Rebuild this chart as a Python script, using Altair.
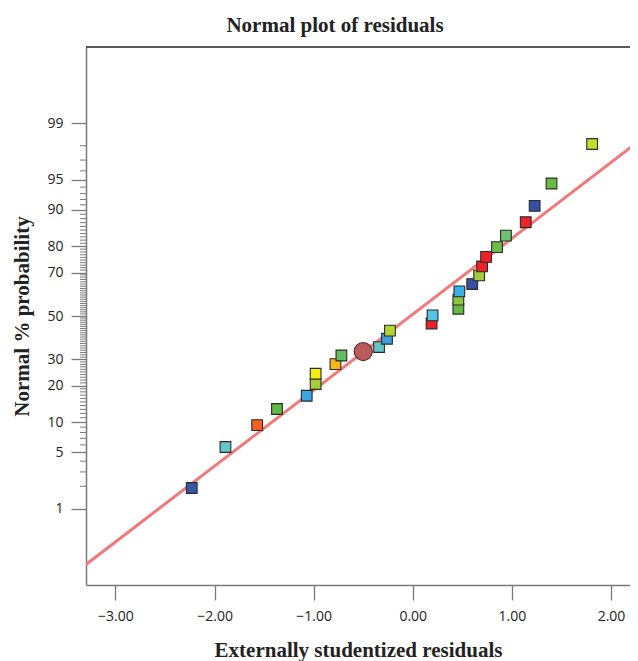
import altair as alt
import pandas as pd
from statistics import NormalDist

nd = NormalDist()

# Externally studentized residuals (x) and normal % probability (y)
resid = [-2.23, -1.89, -1.57, -1.37, -1.07, -0.98, -0.98, -0.78, -0.72, -0.50,
         -0.34, -0.26, -0.23, 0.19, 0.20, 0.46, 0.46, 0.47, 0.60, 0.67,
         0.70, 0.74, 0.85, 0.94, 1.14, 1.23, 1.40, 1.81]
pct = [1.9, 5.7, 9.4, 13.1, 16.8, 20.6, 24.3, 28.1, 31.7, 33.4,
       35.4, 39.2, 43.0, 46.4, 50.3, 53.5, 57.8, 61.7, 65.0, 68.8,
       72.5, 76.2, 79.7, 83.4, 87.1, 90.8, 94.5, 98.1]
colors = ["#3a56a5", "#67c7c8", "#f26122", "#5fb946", "#3aa6de", "#a9cd3a", "#f5ec13", "#fbb515", "#64bc5f", "#b85c5c",
          "#67c5c8", "#3a9fdc", "#b4d334", "#ec2227", "#4fc6e5", "#64b946", "#8ac640", "#3bb0e5", "#3651a3", "#a2cb3b",
          "#ee2225", "#ec2227", "#6cbd47", "#6dc171", "#ec2227", "#3651a3", "#6ab945", "#c9dc2b"]
kind = ["square"] * 9 + ["circle"] + ["square"] * 18

# Reference line endpoints
line_x = [-3.30, 2.28]
line_pct = [0.135, 98.25]

major_pct = [1, 5, 10, 20, 30, 50, 70, 80, 90, 95, 99]
minor_pct = [2, 3, 4, 6, 7, 8, 9] + list(range(11, 90)) + [91, 92, 93, 94, 96, 97, 98]

x_ticks = [-3, -2, -1, 0, 1, 2]

def z(p):
    return nd.inv_cdf(p / 100.0)

pts = pd.DataFrame({"resid": resid, "pct": pct, "color": colors, "kind": kind})
pts["z"] = [z(p) for p in pct]
line_df = pd.DataFrame({"resid": line_x, "z": [z(p) for p in line_pct]})
minor_df = pd.DataFrame({"z": [z(p) for p in minor_pct if p not in major_pct]})

W, H = 544, 538
xs = alt.Scale(domain=[-3.297, 2.192], nice=False, zero=False)
ys = alt.Scale(domain=[-3.245, 3.245], nice=False, zero=False)

lab_font = "Open Sans"
ttl_font = "Liberation Serif"

x_axis = alt.Axis(values=x_ticks, format=".2f", tickSize=15, tickColor="#7a7a7a", tickWidth=1.3,
                  domainColor="#7a7a7a", domainWidth=1.5, labelFont=lab_font, labelFontSize=14,
                  labelColor="#222", labelPadding=9, grid=False,
                  title="Externally studentized residuals", titleFont=ttl_font, titleFontSize=21,
                  titleFontWeight="bold", titleColor="#222", titlePadding=16)
y_axis = alt.Axis(values=[z(p) for p in major_pct],
                  labelExpr="format(round(cumulativeNormal(datum.value)*100), 'd')",
                  tickSize=15, tickColor="#7a7a7a", tickWidth=1.3,
                  domainColor="#7a7a7a", domainWidth=1.5, labelFont=lab_font, labelFontSize=14,
                  labelColor="#222", labelPadding=8, grid=False,
                  title="Normal % probability", titleFont=ttl_font, titleFontSize=21,
                  titleFontWeight="bold", titleColor="#222", titlePadding=14)

base_line = alt.Chart(line_df).mark_line(color="#f07a7a", strokeWidth=3, clip=True).encode(
    x=alt.X("resid:Q", scale=xs, axis=x_axis),
    y=alt.Y("z:Q", scale=ys, axis=y_axis),
)

minor = alt.Chart(minor_df).mark_rule(color="#7a7a7a", strokeWidth=1).encode(
    y=alt.Y("z:Q", scale=ys),
    x=alt.value(-6), x2=alt.value(0),
)

top_border = alt.Chart(pd.DataFrame({"a": [0]})).mark_rule(color="#222", strokeWidth=1.5).encode(
    x=alt.value(0), x2=alt.value(W), y=alt.value(0),
)

squares = alt.Chart(pts).transform_filter("datum.kind == 'square'").mark_square(
    size=115, opacity=1, stroke="#2a2a2a", strokeWidth=1.1
).encode(
    x=alt.X("resid:Q", scale=xs),
    y=alt.Y("z:Q", scale=ys),
    fill=alt.Fill("color:N", scale=None),
)

circle = alt.Chart(pts).transform_filter("datum.kind == 'circle'").mark_circle(
    size=330, opacity=1, stroke="#5a2a2a", strokeWidth=1.1
).encode(
    x=alt.X("resid:Q", scale=xs),
    y=alt.Y("z:Q", scale=ys),
    fill=alt.Fill("color:N", scale=None),
)

chart = alt.layer(base_line, minor, top_border, squares, circle).properties(
    width=W, height=H,
    title=alt.TitleParams("Normal plot of residuals", font=ttl_font, fontSize=21, fontWeight="bold",
                          color="#222", anchor="middle", offset=10, dx=-23),
    padding={"left": 78, "top": 39, "right": 0, "bottom": 76},
    autosize=alt.AutoSizeParams(type="none"),
).configure_view(stroke=None)

chart.save("out.html", embed_options={"renderer": "svg", "actions": False})
